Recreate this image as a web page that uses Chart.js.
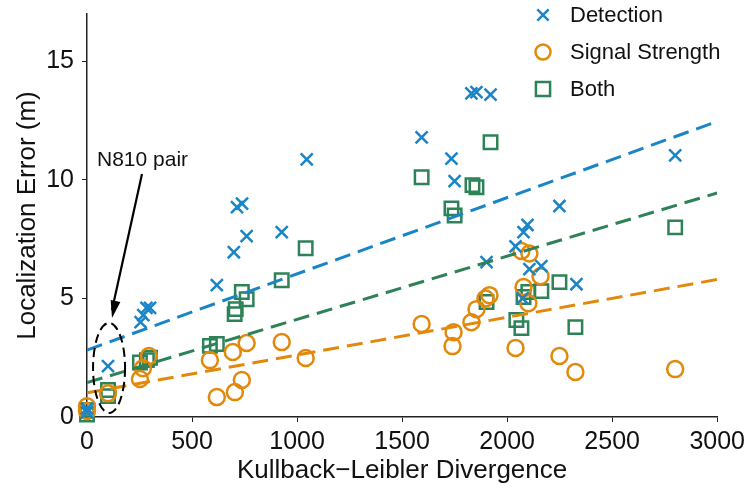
<!DOCTYPE html>
<html>
<head>
<meta charset="utf-8">
<script src="https://cdn.jsdelivr.net/npm/chart.js@4.4.1/dist/chart.umd.min.js"></script>
<style>
  html, body { margin: 0; padding: 0; background: #fff; }
  #wrap { width: 750px; height: 487px; }
</style>
</head>
<body>
<div id="wrap"><canvas id="klChart" width="750" height="487"></canvas></div>
<script>
// KL divergence (x) vs localization error in metres (y)
const detX = [0, 0, 100, 255, 268, 283, 300, 618, 699, 714, 738, 760, 927, 1046, 1593, 1735, 1750,
              1830, 1854, 1921, 1902, 2040, 2073, 2078, 2097, 2106, 2163, 2249, 2330, 2800];
const detY = [0.2, 0.35, 2.15, 4.0, 4.3, 4.6, 4.6, 5.56, 6.95, 8.85, 9.0, 7.63, 7.8, 10.87, 11.8, 10.9, 9.95,
              13.65, 13.7, 13.6, 6.53, 7.2, 5.0, 7.8, 8.1, 6.24, 6.36, 8.9, 5.6, 11.04];

const sigX = [0, 0, 100, 252, 266, 295, 585, 618, 694, 704, 737, 760, 927, 1041, 1593, 1740, 1745,
              1830, 1854, 1897, 1916, 2040, 2068, 2078, 2101, 2106, 2159, 2249, 2325, 2800];
const sigY = [0.25, 0.45, 1.0, 1.6, 2.06, 2.57, 2.4, 0.84, 2.74, 1.05, 1.56, 3.12, 3.16, 2.49, 3.92, 2.99, 3.58,
              4.0, 4.55, 5.0, 5.14, 2.91, 7.0, 5.48, 4.8, 6.9, 5.94, 2.57, 1.9, 2.02];

const bothX = [0, 0, 100, 100, 252, 285, 300, 585, 618, 703, 708, 737, 760, 927, 1041, 1593, 1735, 1750,
               1835, 1854, 1921, 1902, 2044, 2068, 2078, 2101, 2163, 2249, 2325, 2800];
const bothY = [0.1, 0.3, 0.88, 1.14, 2.3, 2.4, 2.5, 3.0, 3.08, 4.34, 4.55, 5.27, 4.97, 5.77, 7.12, 10.11, 8.8, 8.5,
               9.78, 9.69, 11.59, 4.85, 4.09, 3.75, 5.06, 5.27, 5.31, 5.69, 3.79, 8.0];

// least-squares fit end points (x = 0 and x = 3000)
const fitX = [0, 3000];
const detFit = [2.82, 12.47];
const sigFit = [1.02, 5.8];
const bothFit = [1.45, 9.45];

const seriesNames = ['Detection', 'Signal Strength', 'Both'];
const xTicks = [0, 500, 1000, 1500, 2000, 2500, 3000];
const yTicks = [0, 5, 10, 15];

const BLUE = '#1a85c6';
const ORANGE = '#e2890c';
const GREEN = '#2e8258';

function pts(xs, ys) {
    return xs.map((x, i) => ({ x: x, y: ys[i] }));
}

const font = 'Liberation Sans, Arial, Helvetica, sans-serif';

// legend + "N810 pair" callout, drawn on top of the plot
const overlay = {
    id: 'overlay',
    afterDraw(chart) {
        const ctx = chart.ctx;
        const xs = chart.scales.x, ys = chart.scales.y;
        ctx.save();

        // legend
        const markers = [
            { style: 'crossRot', color: BLUE, r: 8 },
            { style: 'circle', color: ORANGE, r: 7.5 },
            { style: 'rect', color: GREEN, r: 10 }
        ];
        ctx.font = '22px ' + font;
        ctx.textBaseline = 'middle';
        seriesNames.forEach((name, i) => {
            const y = 15 + i * 37;
            const m = markers[i];
            ctx.strokeStyle = m.color;
            ctx.fillStyle = 'rgba(0,0,0,0)';
            ctx.lineWidth = 2.5;
            Chart.helpers.drawPoint(ctx, { pointStyle: m.style, radius: m.r, borderWidth: 2.5 }, 543, y);
            ctx.fillStyle = '#111';
            ctx.fillText(name, 570, y + 1);
        });

        // dashed ellipse around the N810 pair
        const cx = xs.getPixelForValue(105), cy = ys.getPixelForValue(2.07);
        ctx.setLineDash([9, 5]);
        ctx.strokeStyle = '#000';
        ctx.lineWidth = 2;
        ctx.beginPath();
        ctx.ellipse(cx, cy, 16, 45, 0, 0, Math.PI * 2);
        ctx.stroke();
        ctx.setLineDash([]);

        // arrow
        const x0 = 142, y0 = 174, x1 = 112, y1 = 318;
        ctx.lineWidth = 2.2;
        ctx.beginPath();
        ctx.moveTo(x0, y0);
        ctx.lineTo(x1, y1 - 8);
        ctx.stroke();
        const ang = Math.atan2(y1 - y0, x1 - x0);
        ctx.fillStyle = '#000';
        ctx.beginPath();
        ctx.moveTo(x1, y1);
        ctx.lineTo(x1 - 18 * Math.cos(ang - 0.28), y1 - 18 * Math.sin(ang - 0.28));
        ctx.lineTo(x1 - 18 * Math.cos(ang + 0.28), y1 - 18 * Math.sin(ang + 0.28));
        ctx.closePath();
        ctx.fill();

        ctx.font = '21px ' + font;
        ctx.textAlign = 'left';
        ctx.fillStyle = '#111';
        ctx.fillText('N810 pair', 97, 160);
        ctx.restore();
    }
};

const ctx = document.getElementById('klChart').getContext('2d');
new Chart(ctx, {
    type: 'scatter',
    data: {
        datasets: [
            {
                label: seriesNames[0], data: pts(detX, detY),
                pointStyle: 'crossRot', pointRadius: 8.5, borderColor: BLUE, borderWidth: 2.5,
                backgroundColor: 'transparent', clip: false, order: 1
            },
            {
                label: seriesNames[1], data: pts(sigX, sigY),
                pointStyle: 'circle', pointRadius: 8, borderColor: ORANGE, borderWidth: 2.5,
                backgroundColor: 'transparent', clip: false, order: 2
            },
            {
                label: seriesNames[2], data: pts(bothX, bothY),
                pointStyle: 'rect', pointRadius: 9.5, borderColor: GREEN, borderWidth: 2.5,
                backgroundColor: 'transparent', clip: false, order: 3
            },
            {
                type: 'line', data: pts(fitX, detFit), borderColor: BLUE, borderWidth: 3,
                borderDash: [16, 8], pointRadius: 0, fill: false, order: 0
            },
            {
                type: 'line', data: pts(fitX, sigFit), borderColor: ORANGE, borderWidth: 3,
                borderDash: [16, 8], pointRadius: 0, fill: false, order: 0
            },
            {
                type: 'line', data: pts(fitX, bothFit), borderColor: GREEN, borderWidth: 3,
                borderDash: [16, 8], pointRadius: 0, fill: false, order: 0
            }
        ]
    },
    options: {
        responsive: false,
        animation: false,
        layout: { padding: { top: 14, right: 32, left: 0, bottom: 0 } },
        plugins: {
            legend: { display: false },
            tooltip: { enabled: false }
        },
        scales: {
            x: {
                type: 'linear', min: 0, max: 3000,
                afterFit: s => { s.height = 70; },
                afterBuildTicks: s => { s.ticks = xTicks.map(v => ({ value: v })); },
                border: { color: '#222', width: 1.5 },
                grid: { drawOnChartArea: false, drawTicks: true, tickLength: 5, color: '#222' },
                ticks: { color: '#111', font: { size: 25, family: font }, padding: 5, maxRotation: 0,
                         callback: v => String(v) },
                title: { display: true, text: 'Kullback\u2212Leibler Divergence', color: '#111',
                         font: { size: 26, family: font }, padding: { top: 0, bottom: 1 } }
            },
            y: {
                type: 'linear', min: 0, max: 17,
                // fixed width, and no extra room reserved for the top tick label
                afterFit: s => { s.width = 87; s.paddingTop = 0; s.paddingBottom = 0; },
                afterBuildTicks: s => { s.ticks = yTicks.map(v => ({ value: v })); },
                border: { color: '#222', width: 1.5 },
                grid: { drawOnChartArea: false, drawTicks: true, tickLength: 5, color: '#222' },
                ticks: { color: '#111', font: { size: 25, family: font }, padding: 8,
                         callback: v => String(v) },
                title: { display: true, text: 'Localization Error (m)', color: '#111',
                         font: { size: 26, family: font }, padding: { top: 12, bottom: 2 } }
            }
        }
    },
    plugins: [overlay]
});
</script>
</body>
</html>
